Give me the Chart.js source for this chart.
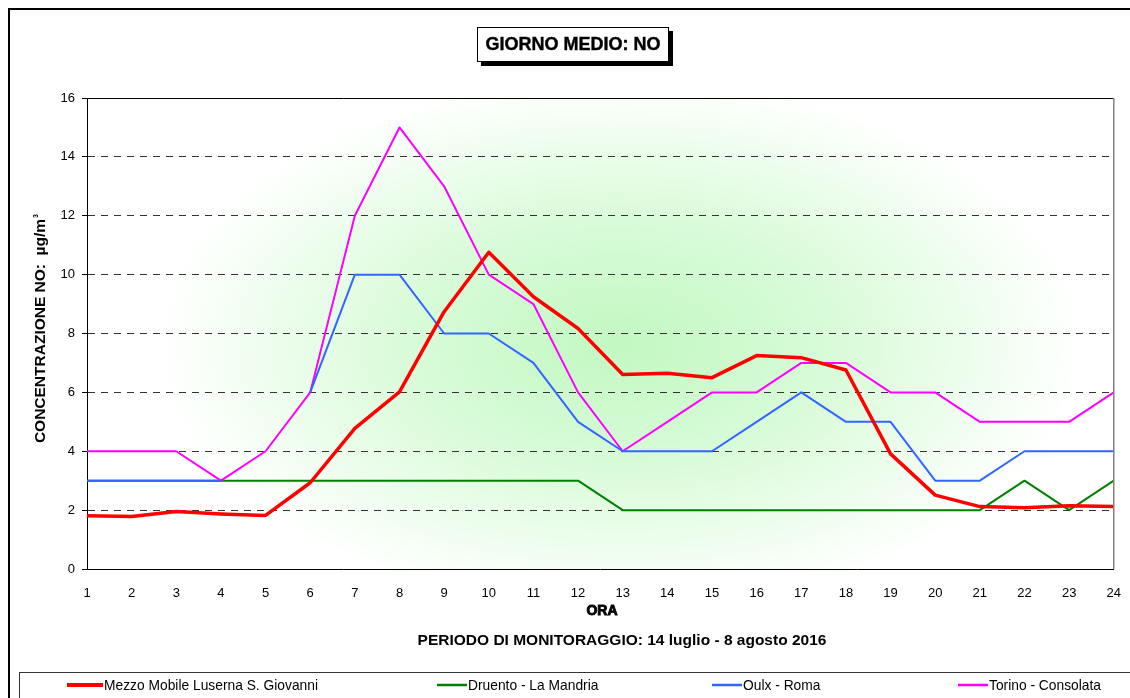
<!DOCTYPE html>
<html>
<head>
<meta charset="utf-8">
<script src="https://cdn.jsdelivr.net/npm/chart.js@4/dist/chart.umd.min.js"></script>
<style>
  body { margin: 0; background: #fff; }
  canvas { display: block; }
</style>
</head>
<body>
<canvas id="chart" width="1130" height="698"></canvas>
<script>
const ORE = ['1','2','3','4','5','6','7','8','9','10','11','12','13','14','15','16','17','18','19','20','21','22','23','24'];

// valori (µg/m³)
const luserna = [1.81,1.78,1.95,1.87,1.82,2.93,4.78,6.02,8.74,10.76,9.25,8.17,6.61,6.65,6.5,7.25,7.18,6.76,3.91,2.51,2.12,2.08,2.15,2.12];
const druento = [3,3,3,3,3,3,3,3,3,3,3,3,2,2,2,2,2,2,2,2,2,3,2,3];
const oulx    = [3,3,3,3,null,6,10,10,8,8,7,5,4,4,4,5,6,5,5,3,3,4,4,4];
const torino  = [4,4,4,3,4,6,12,15,13,10,9,6,4,5,6,6,7,7,6,6,5,5,5,6];

const Y_TICKS = [0,2,4,6,8,10,12,14,16];

const LEFT = 87, TOP = 98, RIGHT = 1114, BOTTOM = 569;
const FONT = '"Liberation Sans", Arial, sans-serif';

// ─── sfondo, cornici, titoli, legenda ─────────────────────────────────────
const decor = {
    id: 'decor',
    beforeDraw(chart) {
        const ctx = chart.ctx;
        const a = chart.chartArea;
        // sfondo sfumato verde al centro
        ctx.save();
        const cx = (a.left + a.right) / 2 + 20, cy = (a.top + a.bottom) / 2 + 10;
        ctx.beginPath();
        ctx.rect(a.left, a.top, a.right - a.left, a.bottom - a.top);
        ctx.clip();
        ctx.translate(cx, cy);
        ctx.scale(1.75, 1);
        const g = ctx.createRadialGradient(0, 0, 0, 0, 0, 265);
        g.addColorStop(0, '#c2f8c2');
        g.addColorStop(0.45, '#d8fbd8');
        g.addColorStop(1, '#ffffff');
        ctx.fillStyle = g;
        ctx.fillRect(-400, -300, 800, 600);
        ctx.restore();
    },
    afterDraw(chart) {
        const ctx = chart.ctx;
        const a = chart.chartArea;
        ctx.save();

        // cornice esterna
        ctx.strokeStyle = '#000';
        ctx.lineWidth = 2;
        ctx.beginPath();
        ctx.moveTo(1130, 9); ctx.lineTo(9, 9); ctx.lineTo(9, 698);
        ctx.stroke();

        // bordo area grafico
        ctx.lineWidth = 1;
        ctx.strokeStyle = '#000';
        ctx.beginPath();
        ctx.moveTo(a.left, a.top + 0.5); ctx.lineTo(a.right, a.top + 0.5);
        ctx.stroke();
        ctx.strokeStyle = '#808080';
        ctx.lineWidth = 1.5;
        ctx.beginPath();
        ctx.moveTo(a.right, a.top); ctx.lineTo(a.right, a.bottom);
        ctx.stroke();

        // titolo con ombra
        ctx.fillStyle = '#000';
        ctx.fillRect(481, 31, 192, 35);
        ctx.fillStyle = '#fff';
        ctx.fillRect(477, 27, 192, 35);
        ctx.strokeStyle = '#000';
        ctx.lineWidth = 1;
        ctx.strokeRect(477.5, 27.5, 191, 34);
        ctx.fillStyle = '#000';
        ctx.font = 'bold 18px ' + FONT;
        ctx.textAlign = 'center';
        ctx.textBaseline = 'middle';
        ctx.lineWidth = 0.4;
        ctx.strokeText('GIORNO MEDIO: NO', 573, 45);
        ctx.fillText('GIORNO MEDIO: NO', 573, 45);

        // titolo asse y
        ctx.save();
        ctx.translate(41, 328);
        ctx.rotate(-Math.PI / 2);
        ctx.font = 'bold 15.5px ' + FONT;
        const t1 = 'CONCENTRAZIONE NO:  µg/m';
        const w1 = ctx.measureText(t1).width;
        ctx.textAlign = 'left';
        ctx.fillText(t1, -w1 / 2 - 3, 0);
        ctx.font = 'bold 7px ' + FONT;
        ctx.fillText('3', w1 / 2 - 2, -5);
        ctx.restore();

        // titolo asse x
        ctx.font = 'bold 14px ' + FONT;
        ctx.lineWidth = 0.9;
        ctx.strokeStyle = '#000';
        ctx.strokeText('ORA', 602, 611);
        ctx.fillText('ORA', 602, 611);
        ctx.font = 'bold 15.5px ' + FONT;
        ctx.fillText('PERIODO DI MONITORAGGIO: 14 luglio - 8 agosto 2016', 622, 641);

        // legenda
        ctx.strokeStyle = '#333';
        ctx.lineWidth = 1;
        ctx.strokeRect(19.5, 672.5, 1130, 40);
        const pos = [[67, 104], [437, 468], [712, 743], [958, 989]];
        const ds = chart.data.datasets;
        ctx.textAlign = 'left';
        ds.forEach((d, i) => {
            const [x0, tx] = pos[i];
            ctx.strokeStyle = d.borderColor;
            ctx.lineWidth = i === 0 ? 4 : 2.5;
            ctx.beginPath();
            ctx.moveTo(x0, 685); ctx.lineTo(tx - 1, 685);
            ctx.stroke();
            ctx.save();
            ctx.translate(tx, 686);
            ctx.scale(0.92, 1);
            ctx.font = '15px ' + FONT;
            ctx.fillStyle = '#000';
            ctx.fillText(d.label, 0, 0);
            ctx.restore();
        });
        ctx.restore();
    }
};

new Chart(document.getElementById('chart'), {
    type: 'line',
    data: {
        labels: ORE,
        datasets: [
            { label: 'Mezzo Mobile Luserna S. Giovanni', data: luserna, borderColor: '#ff0000', borderWidth: 3.5, order: 0 },
            { label: 'Druento - La Mandria', data: druento, borderColor: '#008000', borderWidth: 2, order: 3 },
            { label: 'Oulx - Roma', data: oulx, borderColor: '#3366ff', borderWidth: 2, order: 1 },
            { label: 'Torino - Consolata', data: torino, borderColor: '#ff00ff', borderWidth: 2, order: 2 },
        ]
    },
    options: {
        responsive: false,
        animation: false,
        devicePixelRatio: 1,
        layout: { padding: { left: 0, top: TOP, right: 1130 - RIGHT, bottom: 698 - BOTTOM - 40 } },
        elements: {
            point: { radius: 0, hoverRadius: 0 },
            line: { tension: 0, fill: false, borderJoinStyle: 'round' }
        },
        plugins: { legend: { display: false }, title: { display: false }, tooltip: { enabled: false } },
        scales: {
            x: {
                offset: false,
                grid: { display: false },
                border: { display: true, color: '#000', width: 1 },
                ticks: { color: '#000', font: { family: FONT, size: 13 }, padding: 9, maxRotation: 0, autoSkip: false },
                afterFit(scale) { scale.height = 40; }
            },
            y: {
                min: 0, max: 16,
                afterBuildTicks(scale) { scale.ticks = Y_TICKS.map(v => ({ value: v })); },
                grid: {
                    color: ctx => (ctx.tick && (ctx.tick.value === 0)) ? 'rgba(0,0,0,0)' : '#333',
                    tickColor: '#000',
                    tickLength: 5,
                    drawOnChartArea: true
                },
                border: { display: true, color: '#000', width: 1, dash: [7, 6] },
                ticks: { color: '#000', font: { family: FONT, size: 13 }, padding: 7 },
                afterFit(scale) { scale.width = LEFT; }
            }
        }
    },
    plugins: [decor]
});
</script>
</body>
</html>
